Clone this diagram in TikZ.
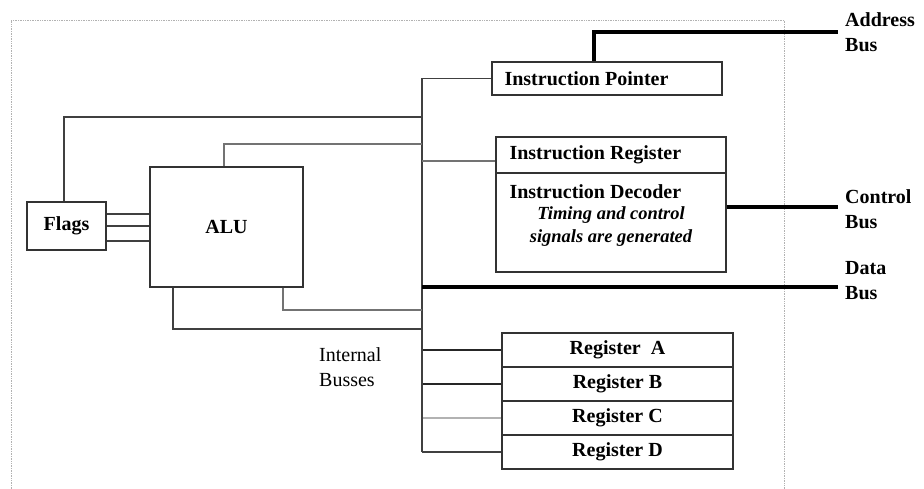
\documentclass[tikz,border=0pt]{standalone}
\usepackage{fontspec}
\setmainfont{Liberation Serif}
\usepackage{tikz}

\begin{document}
\begin{tikzpicture}[x=1pt,y=-1pt,
  box/.style={draw=black!80,line width=1.3pt,inner sep=0pt,font=\fontsize{20}{25}\selectfont\bfseries},
  wire/.style={draw=black!75,line width=1.2pt},
  bus/.style={draw=black,line width=3.6pt},
  lbl/.style={inner sep=0pt,anchor=west,align=left,font=\fontsize{20}{25}\selectfont\bfseries}]
\useasboundingbox (0,0) rectangle (924,489);
\draw [gray!60,densely dotted,line width=0.7pt] (11,489) -- (11,20) -- (784,20) -- (784,489);
\node [box,minimum width=79,minimum height=48] (flags) at (66.5,226) {Flags};
\node [box,minimum width=153,minimum height=120] (alu) at (226.5,227) {ALU};
\node [box,minimum width=230,minimum height=33] (ip) at (607,78.5) {};
\node [lbl] (iptext) at ([xshift=13]ip.west) {Instruction Pointer};
\node [box,minimum width=230,minimum height=36] (ir) at (611,155) {};
\node [lbl] (irtext) at ([xshift=14]ir.west) {Instruction Register};
\node [box,minimum width=230,minimum height=99] (dec) at (611,222.5) {};
\node [lbl] (dectext) at ([xshift=14,yshift=-19]dec.north west) {Instruction Decoder};
\node [inner sep=0pt,align=center,font=\fontsize{18.5}{23}\selectfont\bfseries\itshape] (timing) at ([yshift=-4]dec.center) {Timing and control\\signals are generated};
\coordinate (bustop) at (422,78.5);
\coordinate (jflags) at (422,117);
\coordinate (jalu) at (422,144);
\coordinate (jdata) at (422,287);
\coordinate (jlow1) at (422,310);
\coordinate (jlow2) at (422,329);
\coordinate (addrend) at (838,32);
\coordinate (ctrlend) at (838,207);
\coordinate (dataend) at (838,287);
\foreach \r/\t/\y/\c in {ra/Register\ \ A/350/black!85,rb/Register B/384/black!85,rc/Register C/418/black!30,rd/Register D/452/black!75}
{
\node [box,minimum width=231,minimum height=34] (\r) at (617.5,\y) {\t};
\draw [wire,draw=\c] (\r.west) -- (\r.west -| bustop);
}
\draw [wire] (ip.west) -- (bustop) -- (rd.west -| bustop);
\foreach \dy in {12,0,-15}
\draw [wire] ([yshift=\dy]flags.east) -- ([yshift=\dy]flags.east -| alu.west);
\draw [wire] ([xshift=-2.5]flags.north) |- (jflags);
\draw [wire,draw=black!55] ([xshift=-2.5]alu.north) |- (jalu);
\draw [wire,draw=black!55] ([yshift=-6]ir.west) -- ([yshift=-6]ir.west -| bustop);
\draw [wire,draw=black!55] ([xshift=56.5]alu.south) |- (jlow1);
\draw [wire] ([xshift=-53.5]alu.south) |- (jlow2);
\draw [bus] ([xshift=-13]ip.north) |- (addrend);
\draw [bus] ([yshift=15.5]dec.east) -- (ctrlend);
\draw [bus] (jdata) -- (dataend);
\node [lbl] (addrlbl) at (845,32.5) {Address\\Bus};
\node [lbl] (ctrllbl) at (845,209.5) {Control\\Bus};
\node [lbl] (datalbl) at (845,281) {Data\\Bus};
\node [lbl,font=\fontsize{20}{25}\selectfont] (intlbl) at (319,367.5) {Internal\\Busses};
\end{tikzpicture}
\end{document}
